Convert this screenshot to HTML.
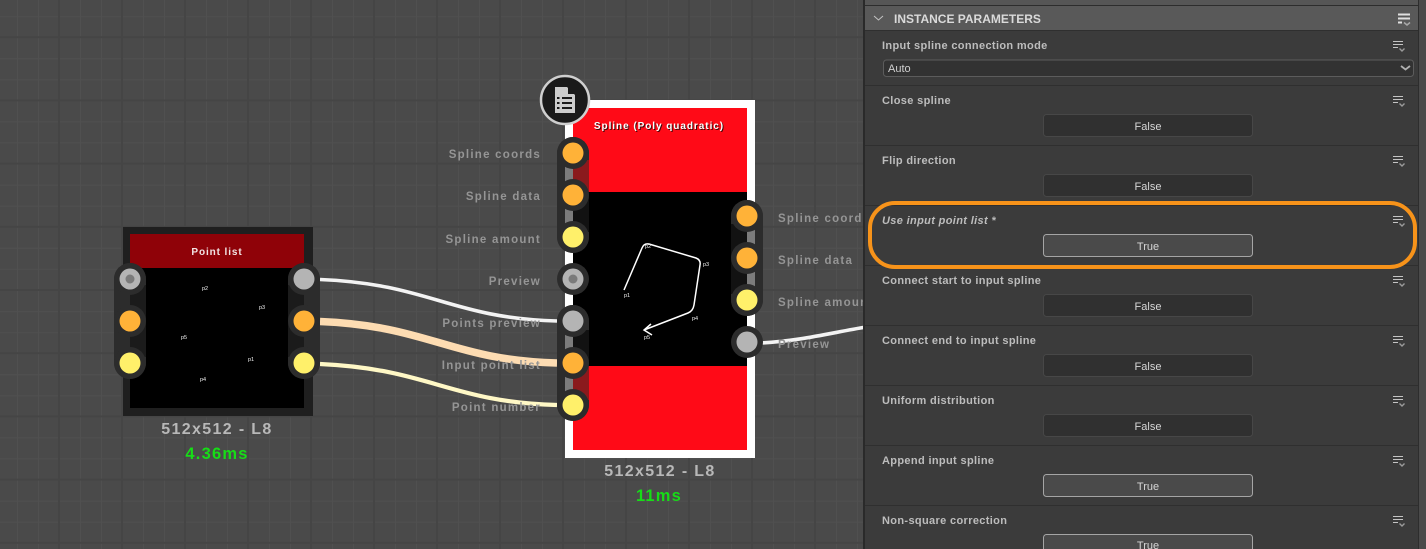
<!DOCTYPE html>
<html><head><meta charset="utf-8">
<style>
html,body{margin:0;padding:0;background:#4a4a4a}
svg{display:block}
text{font-family:"Liberation Sans",sans-serif}
.lb{font-size:11.5px;font-weight:700;letter-spacing:1.25px;fill:#959595;text-anchor:end}
.lr{font-size:11.5px;font-weight:700;letter-spacing:1.25px;fill:#959595}
.sz{font-size:16px;font-weight:700;letter-spacing:1.35px;fill:#b8b8b8;text-anchor:middle}
.ms{font-size:16.5px;font-weight:700;letter-spacing:1.2px;fill:#17dc17;text-anchor:middle}
.pl{font-size:11px;font-weight:700;letter-spacing:.35px;fill:#bdbdbd}
.bt{font-size:11px;fill:#d6d6d6;text-anchor:middle}
.sm{font-size:5.500px;fill:#f0f0f0}
</style></head><body>
<svg xmlns="http://www.w3.org/2000/svg" width="1426" height="549" viewBox="0 0 1426 549">
<defs>
<pattern id="g" x="-4" y="-26" width="63" height="63.200" patternUnits="userSpaceOnUse">
<rect width="63" height="63.200" fill="#4a4a4a"/>
<path d="M21.500 0V63.200M42.500 0V63.200M0 21.500H63M0 42.500H63" stroke="#505050" stroke-width="1"/>
<path d="M0 0V63.200M63 0V63.200M0 0H63M0 63.200H63" stroke="#454545" stroke-width="2"/>
</pattern>
<g id="menu"><path d="M0 .5H10M0 3.500H10M0 6.500H5" fill="none" stroke="#c4c4c4" stroke-width="1.100"/><path d="M6.500 7.500l2.500 2.500 2.500-2.500" fill="none" stroke="#9a9a9a" stroke-width="1.400"/></g>
</defs>
<rect width="1426" height="549" fill="url(#g)"/>

<!-- wires -->
<g fill="none" stroke-linecap="butt">
<path d="M320 279.500C430 284 450 318 557 321" stroke="#f3f3f3" stroke-width="3.600"/>
<path d="M320 321.500C430 326 450 360 557 363" stroke="#fddcb2" stroke-width="7.500"/>
<path d="M320 364C430 369 450 402 557 405" stroke="#fff8c6" stroke-width="4.200"/>
<path d="M760 343C800 341 830 333 866 327" stroke="#f3f3f3" stroke-width="3.600"/>
</g>

<!-- node 1 -->
<rect x="123" y="227" width="190" height="189" fill="#1f1f1f"/>
<rect x="130" y="234" width="174" height="174" fill="#000"/>
<rect x="130" y="234" width="174" height="34" fill="#8f0208"/>
<text x="217" y="255" text-anchor="middle" font-size="10" font-weight="700" letter-spacing=".9" fill="#f2e4e4">Point list</text>
<text class="sm" x="202" y="290">p2</text><text class="sm" x="259" y="309">p3</text>
<text class="sm" x="181" y="339">p5</text><text class="sm" x="248" y="361">p1</text>
<text class="sm" x="200" y="381">p4</text>
<rect x="114" y="263" width="32" height="116" rx="16" fill="#2c2c2c"/>
<rect x="288" y="263" width="32" height="116" rx="16" fill="#2c2c2c"/>
<rect x="130" y="285" width="16" height="72" fill="#1b1b1b"/>
<rect x="288" y="285" width="16" height="72" fill="#1b1b1b"/>
<g fill="#2c2c2c">
<circle cx="130" cy="279" r="16"/><circle cx="130" cy="321" r="16"/><circle cx="130" cy="363" r="16"/>
<circle cx="304" cy="279" r="16"/><circle cx="304" cy="321" r="16"/><circle cx="304" cy="363" r="16"/>
</g>
<circle cx="130" cy="279" r="10.500" fill="#b4b4b4"/><circle cx="130" cy="279" r="4.500" fill="#7b7b7b"/>
<circle cx="130" cy="321" r="10.500" fill="#ffb238"/><circle cx="130" cy="363" r="10.500" fill="#fff06a"/>
<circle cx="304" cy="279" r="10.500" fill="#b4b4b4"/><circle cx="304" cy="321" r="10.500" fill="#ffb238"/><circle cx="304" cy="363" r="10.500" fill="#fff06a"/>
<text class="sz" x="217" y="434">512x512 - L8</text>
<text class="ms" x="217" y="459">4.36ms</text>

<!-- node 2 -->
<rect x="565" y="100" width="190" height="358" fill="#fff"/>
<rect x="573" y="108" width="174" height="84" fill="#ff0a17"/>
<rect x="573" y="192" width="174" height="174" fill="#000"/>
<rect x="573" y="366" width="174" height="84" fill="#ff0a17"/>
<text x="659" y="129" text-anchor="middle" font-size="10" font-weight="700" letter-spacing=".95" fill="#3a0a0a" transform="translate(1 1)">Spline (Poly quadratic)</text>
<text x="659" y="129" text-anchor="middle" font-size="10" font-weight="700" letter-spacing=".95" fill="#fff">Spline (Poly quadratic)</text>
<path d="M624 290L642 248Q644 243 649 244L696 258Q701 260 700 265L694 305Q693 311 688 313L644 330M651 324L644 330L652 335" fill="none" stroke="#fff" stroke-width="1.500"/>
<text class="sm" x="624" y="297">p1</text><text class="sm" x="645" y="248">p2</text><text class="sm" x="703" y="266">p3</text>
<text class="sm" x="692" y="320">p4</text><text class="sm" x="644" y="339">p5</text>

<g>
<rect x="557" y="137" width="32" height="116" rx="16" fill="#2c2c2c"/>
<rect x="565" y="160" width="8" height="70" fill="#7c7c7c"/>
<rect x="573" y="160" width="16" height="32" fill="#8a1a1d"/>
<rect x="573" y="192" width="16" height="40" fill="#121212"/>
<rect x="557" y="305" width="32" height="116" rx="16" fill="#2c2c2c"/>
<rect x="565" y="330" width="8" height="70" fill="#7c7c7c"/>
<rect x="573" y="330" width="16" height="36" fill="#121212"/>
<rect x="573" y="366" width="16" height="34" fill="#8a1a1d"/>
<rect x="731" y="200" width="32" height="116" rx="16" fill="#2c2c2c"/>
<rect x="747" y="224" width="8" height="70" fill="#7c7c7c"/>
<rect x="731" y="224" width="16" height="70" fill="#121212"/>
</g>
<g fill="#2c2c2c">
<circle cx="573" cy="153" r="16"/><circle cx="573" cy="195" r="16"/><circle cx="573" cy="237" r="16"/>
<circle cx="573" cy="279" r="16"/><circle cx="573" cy="321" r="16"/><circle cx="573" cy="363" r="16"/><circle cx="573" cy="405" r="16"/>
<circle cx="747" cy="216" r="16"/><circle cx="747" cy="258" r="16"/><circle cx="747" cy="300" r="16"/><circle cx="747" cy="342" r="16"/>
</g>
<g>
<circle cx="573" cy="153" r="10.500" fill="#ffb238"/><circle cx="573" cy="195" r="10.500" fill="#ffb238"/><circle cx="573" cy="237" r="10.500" fill="#fff06a"/>
<circle cx="573" cy="279" r="10.500" fill="#b4b4b4"/><circle cx="573" cy="279" r="4.500" fill="#7b7b7b"/>
<circle cx="573" cy="321" r="10.500" fill="#b4b4b4"/><circle cx="573" cy="363" r="10.500" fill="#ffb238"/><circle cx="573" cy="405" r="10.500" fill="#fff06a"/>
<circle cx="747" cy="216" r="10.500" fill="#ffb238"/><circle cx="747" cy="258" r="10.500" fill="#ffb238"/><circle cx="747" cy="300" r="10.500" fill="#fff06a"/><circle cx="747" cy="342" r="10.500" fill="#b4b4b4"/>
</g>

<!-- doc badge -->
<circle cx="565" cy="100" r="24" fill="#1a1a1a" stroke="#cfcfcf" stroke-width="2.500"/>
<path d="M555 87H567L575 95V113H555Z" fill="#cdcdcd"/>
<path d="M568 87L575 94H568Z" fill="#1a1a1a"/>
<path d="M562 98H572M562 103H572M562 108H572M557 98H559.500M557 103H559.500M557 108H559.500" stroke="#1a1a1a" stroke-width="2"/>

<!-- port labels -->
<text class="lb" x="541" y="158">Spline coords</text>
<text class="lb" x="541" y="200">Spline data</text>
<text class="lb" x="541" y="243">Spline amount</text>
<text class="lb" x="541" y="285">Preview</text>
<text class="lb" x="541" y="327">Points preview</text>
<text class="lb" x="541" y="369">Input point list</text>
<text class="lb" x="541" y="411">Point number</text>
<text class="lr" x="778" y="222">Spline coords</text>
<text class="lr" x="778" y="264">Spline data</text>
<text class="lr" x="778" y="306">Spline amount</text>
<text class="lr" x="778" y="348">Preview</text>
<text class="sz" x="660" y="476">512x512 - L8</text>
<text class="ms" x="659" y="501" letter-spacing="0.300">11ms</text>

<!-- panel -->
<rect x="863" y="0" width="556" height="549" fill="#3b3b3b"/>
<rect x="863" y="0" width="2" height="549" fill="#2a2a2a"/>
<rect x="865" y="0" width="553" height="5" fill="#565656"/>
<rect x="865" y="5" width="553" height="1" fill="#2d2d2d"/>
<rect x="865" y="6" width="553" height="24" fill="#595959"/>
<rect x="865" y="30" width="553" height="1" fill="#2f2f2f"/>
<rect x="1418" y="0" width="1" height="549" fill="#2d2d2d"/>
<rect x="1419" y="0" width="7" height="549" fill="#4a4a4a"/>
<path d="M874 16l4.500 4 4.500-4" fill="none" stroke="#c4c4c4" stroke-width="1"/>
<text x="894" y="23" font-size="12" font-weight="700" fill="#dadada">INSTANCE PARAMETERS</text>
<path d="M1398 14.500H1410M1398 18.500H1410M1398 22.500H1402" fill="none" stroke="#e0e0e0" stroke-width="2"/>
<path d="M1404 22.500l3 2.500 3-2.500" fill="none" stroke="#a8a8a8" stroke-width="1.500"/>

<g stroke="#2f2f2f" stroke-width="1">
<path d="M865 85.500H1418M865 145.500H1418M865 205.500H1418M865 265.500H1418M865 325.500H1418M865 385.500H1418M865 445.500H1418M865 505.500H1418"/>
</g>

<text class="pl" x="882" y="49">Input spline connection mode</text>
<rect x="883.500" y="60" width="530" height="16.500" rx="3" fill="#323232" stroke="#5c5c5c"/>
<text x="888" y="72" font-size="11" fill="#cfcfcf">Auto</text>
<path d="M1401 66l4.500 3.500 4.500-3.500" fill="none" stroke="#b0b0b0" stroke-width="1.800"/>

<text class="pl" x="882" y="104">Close spline</text>
<text class="pl" x="882" y="164">Flip direction</text>
<text class="pl" x="882" y="224" font-style="italic">Use input point list *</text>
<text class="pl" x="882" y="284">Connect start to input spline</text>
<text class="pl" x="882" y="344">Connect end to input spline</text>
<text class="pl" x="882" y="404">Uniform distribution</text>
<text class="pl" x="882" y="464">Append input spline</text>
<text class="pl" x="882" y="524">Non-square correction</text>

<use href="#menu" x="1393" y="41"/><use href="#menu" x="1393" y="96"/><use href="#menu" x="1393" y="156"/>
<use href="#menu" x="1393" y="216"/><use href="#menu" x="1393" y="276"/><use href="#menu" x="1393" y="336"/>
<use href="#menu" x="1393" y="396"/><use href="#menu" x="1393" y="456"/><use href="#menu" x="1393" y="516"/>

<g fill="#303030" stroke="#474747">
<rect x="1043.500" y="114.500" width="209" height="22" rx="3"/>
<rect x="1043.500" y="174.500" width="209" height="22" rx="3"/>
<rect x="1043.500" y="294.500" width="209" height="22" rx="3"/>
<rect x="1043.500" y="354.500" width="209" height="22" rx="3"/>
<rect x="1043.500" y="414.500" width="209" height="22" rx="3"/>
</g>
<g fill="#4a4a4a" stroke="#a5a5a5">
<rect x="1043.500" y="234.500" width="209" height="22" rx="3"/>
<rect x="1043.500" y="474.500" width="209" height="22" rx="3"/>
<rect x="1043.500" y="534.500" width="209" height="22" rx="3"/>
</g>
<text class="bt" x="1148" y="130">False</text><text class="bt" x="1148" y="190">False</text>
<text class="bt" x="1148" y="250">True</text><text class="bt" x="1148" y="310">False</text>
<text class="bt" x="1148" y="370">False</text><text class="bt" x="1148" y="430">False</text>
<text class="bt" x="1148" y="490">True</text><text class="bt" x="1148" y="549">True</text>

<rect x="870" y="203" width="545" height="64" rx="25" fill="none" stroke="#f7931a" stroke-width="4"/>
</svg>
</body></html>
